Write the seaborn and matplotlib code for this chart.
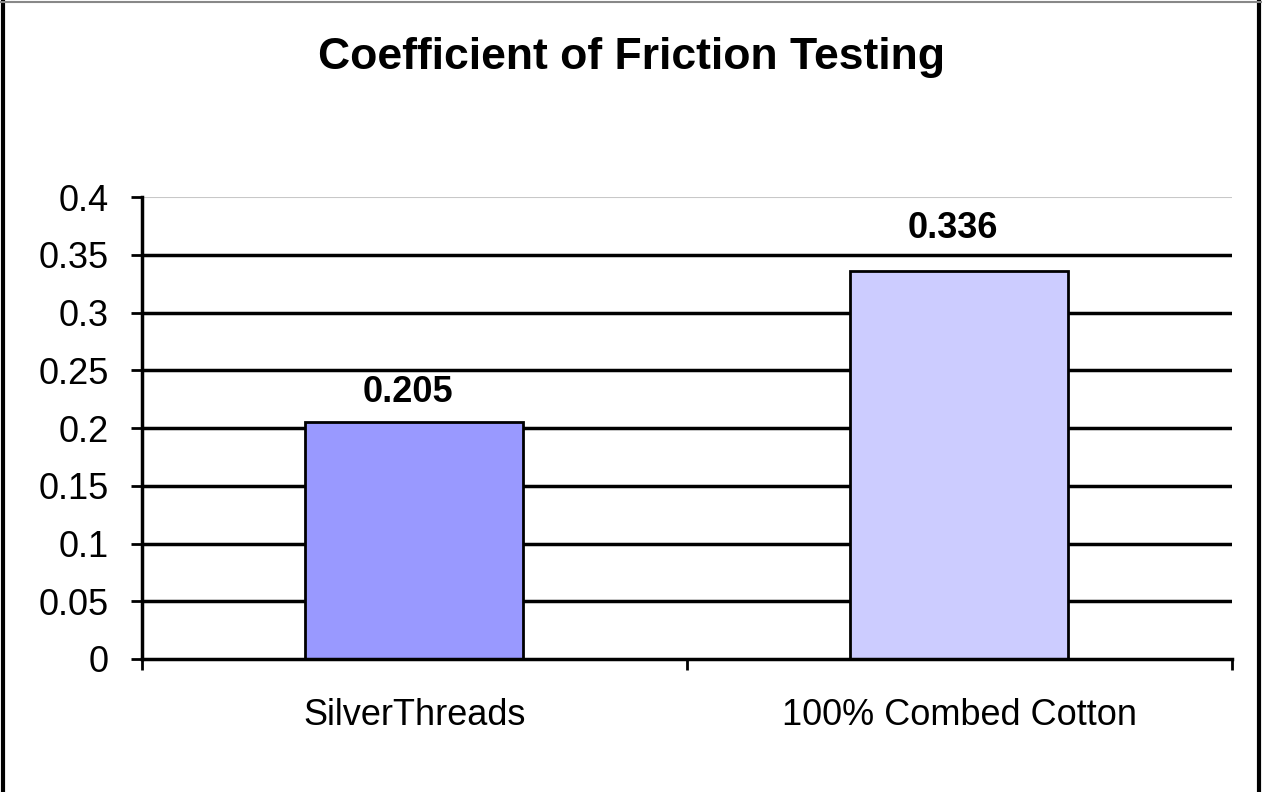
import matplotlib
matplotlib.use("Agg")
import matplotlib.pyplot as plt
from matplotlib.ticker import FixedLocator
import pandas as pd
import seaborn as sns

materials = ["SilverThreads", "100% Combed Cotton"]
friction = [0.205, 0.336]
bar_colors = ["#9999FF", "#CCCCFF"]
y_ticks = [0, 0.05, 0.1, 0.15, 0.2, 0.25, 0.3, 0.35, 0.4]
y_tick_labels = ["0", "0.05", "0.1", "0.15", "0.2", "0.25", "0.3", "0.35", "0.4"]

df = pd.DataFrame({"material": materials, "cof": friction})

sns.set_style("white")
plt.rcParams["font.family"] = ["Liberation Sans", "DejaVu Sans"]
plt.rcParams["text.color"] = "black"
plt.rcParams["xtick.color"] = "black"
plt.rcParams["ytick.color"] = "black"

fig = plt.figure(figsize=(12.62, 7.92), dpi=100)
ax = fig.add_axes([0.1125, 0.168, 0.8637, 0.583])

sns.barplot(data=df, x="material", y="cof", hue="material",
            palette=bar_colors, saturation=1, width=0.4, edgecolor="black",
            linewidth=2, legend=False, ax=ax, zorder=3)

# gridlines like the old Excel chart: black, top one light grey
for yv in y_ticks[1:-1]:
    ax.axhline(yv, color="black", lw=2.5, zorder=1)
ax.axhline(y_ticks[-1], color="#c8c8c8", lw=1.5, zorder=1)

ax.set_xlim(-0.5, 1.5)
ax.set_ylim(0, 0.4)
ax.set_yticks(y_ticks)
ax.set_yticklabels(y_tick_labels)
ax.tick_params(axis="y", direction="out", length=8, width=2, pad=16,
               labelsize=26, left=True, colors="black")
ax.tick_params(axis="x", which="major", length=0, pad=28, labelsize=26,
               colors="black")
ax.xaxis.set_minor_locator(FixedLocator([-0.5, 0.5, 1.5]))
ax.tick_params(axis="x", which="minor", direction="out", length=8,
               width=2, bottom=True, color="black")
ax.set_xlabel("")
ax.set_ylabel("")

for side in ["top", "right"]:
    ax.spines[side].set_visible(False)
for side in ["left", "bottom"]:
    ax.spines[side].set_color("black")
    ax.spines[side].set_linewidth(2.5)
    ax.spines[side].set_zorder(4)

# value labels (excel put them at slightly different heights)
label_lift = [9, 18]
for bar, val, lift in zip(ax.patches, friction, label_lift):
    ax.annotate(f"{val:.3f}", (bar.get_x() + bar.get_width() / 2, val),
                xytext=(-5, lift), textcoords="offset points",
                ha="center", va="bottom", fontsize=26, fontweight="bold",
                color="black")

fig.text(0.5, 0.928, "Coefficient of Friction Testing", ha="center",
         va="center", fontsize=32, fontweight="bold", color="black")

# chart frame
fig.add_artist(plt.Line2D([0.002, 0.002], [0, 1], color="black", lw=3,
                          transform=fig.transFigure))
fig.add_artist(plt.Line2D([0.998, 0.998], [0, 1], color="black", lw=3,
                          transform=fig.transFigure))
fig.add_artist(plt.Line2D([0, 1], [0.997, 0.997], color="#888888", lw=1.5,
                          transform=fig.transFigure))

fig.savefig("out.png", dpi=100, facecolor="white")
